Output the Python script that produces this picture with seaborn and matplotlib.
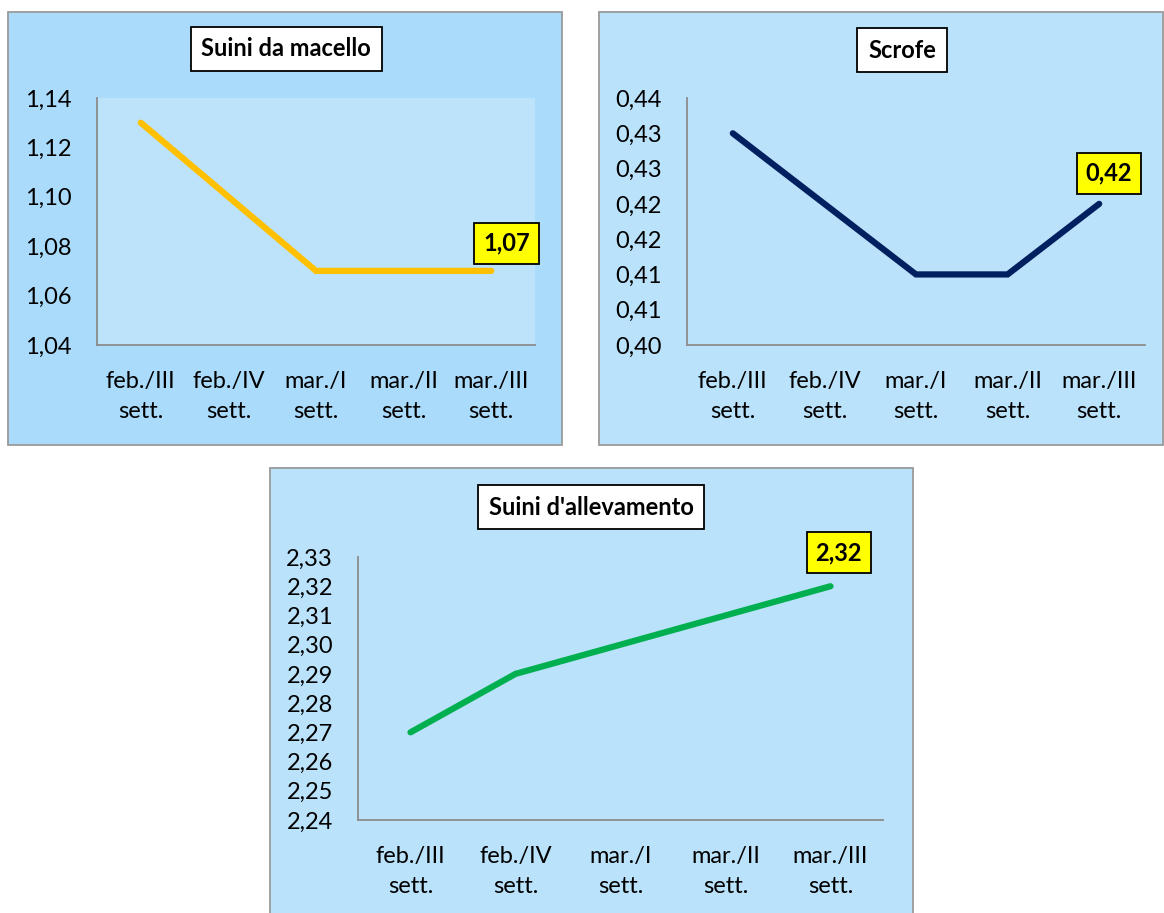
import numpy as np
import pandas as pd
import matplotlib
matplotlib.use("Agg")
import matplotlib.pyplot as plt
from matplotlib.patches import Rectangle
from matplotlib.ticker import FixedLocator, FuncFormatter
import seaborn as sns

sns.set_style("white")
plt.rcParams['font.family'] = ['Lato', 'DejaVu Sans']
plt.rcParams['text.color'] = 'black'
plt.rcParams['xtick.color'] = 'black'
plt.rcParams['ytick.color'] = 'black'
plt.rcParams['axes.labelcolor'] = 'black'

# ---------------- data ----------------
weeks = ["feb./III\nsett.", "feb./IV\nsett.", "mar./I\nsett.", "mar./II\nsett.", "mar./III\nsett."]

macello_title = "Suini da macello"
macello_values = [1.13, 1.10, 1.07, 1.07, 1.07]
macello_ticks = [1.04, 1.06, 1.08, 1.10, 1.12, 1.14]

scrofe_title = "Scrofe"
scrofe_values = [0.43, 0.42, 0.41, 0.41, 0.42]
scrofe_ticks = [0.400, 0.405, 0.410, 0.415, 0.420, 0.425, 0.430, 0.435]
scrofe_ticklabels = ["0,40", "0,41", "0,41", "0,42", "0,42", "0,43", "0,43", "0,44"]

allev_title = "Suini d'allevamento"
allev_values = [2.27, 2.29, 2.30, 2.31, 2.32]
allev_ticks = [2.24, 2.25, 2.26, 2.27, 2.28, 2.29, 2.30, 2.31, 2.32, 2.33]

# ---------------- layout ----------------
W, H = 1164, 913
FS = 17
fig = plt.figure(figsize=(W / 100, H / 100), dpi=100)
fig.patch.set_facecolor("white")


def frect(x0, y0, x1, y1):
    return [x0 / W, 1 - y1 / H, (x1 - x0) / W, (y1 - y0) / H]


def panel(x0, y0, x1, y1, color):
    r = Rectangle((x0 / W, 1 - y1 / H), (x1 - x0) / W, (y1 - y0) / H,
                  transform=fig.transFigure, facecolor=color,
                  edgecolor="#9a9a9a", linewidth=1.3, zorder=-10)
    fig.patches.append(r)


def title_box(cx, cy, text):
    fig.text(cx / W, 1 - cy / H, text, ha="center", va="center",
             fontsize=FS, fontweight="bold", color="black", zorder=10,
             bbox=dict(boxstyle="square,pad=0.45", facecolor="white",
                       edgecolor="black", linewidth=1.3))


def fmt_comma(v, pos=None):
    return f"{v:.2f}".replace(".", ",")


def make_axes(rect, values, color, ticks, ticklabels, ylim, face, offset):
    ax = fig.add_axes(rect)
    ax.set_facecolor(face)
    df = pd.DataFrame({"x": np.arange(len(weeks)), "y": values})
    sns.lineplot(data=df, x="x", y="y", ax=ax, color=color, linewidth=4.5,
                 solid_capstyle="round", solid_joinstyle="miter")
    ax.set_xlim(-0.5, len(weeks) - 0.5)
    ax.set_ylim(*ylim)
    ax.set_xticks(np.arange(len(weeks)))
    ax.set_xticklabels(weeks, fontsize=FS, linespacing=1.5, color="black")
    ax.yaxis.set_major_locator(FixedLocator(ticks))
    if ticklabels is None:
        ax.yaxis.set_major_formatter(FuncFormatter(fmt_comma))
    else:
        ax.set_yticklabels(ticklabels)
    ax.tick_params(axis="y", labelsize=FS, length=0, pad=18, labelcolor="black")
    ax.tick_params(axis="x", length=0, pad=19, labelcolor="black")
    ax.set_xlabel("")
    ax.set_ylabel("")
    for s in ["top", "right"]:
        ax.spines[s].set_visible(False)
    for s in ["left", "bottom"]:
        ax.spines[s].set_color("#8c8c8c")
        ax.spines[s].set_linewidth(1.3)
    last = len(values) - 1
    ax.annotate(fmt_comma(values[last]), xy=(last, values[last]),
                xytext=offset, textcoords="offset points",
                ha="center", va="center", fontsize=FS, fontweight="bold",
                color="black",
                bbox=dict(boxstyle="square,pad=0.38", facecolor="#FFFF00",
                          edgecolor="black", linewidth=1.3),
                annotation_clip=False)
    return ax


# panel 1
panel(8, 12, 562, 445, "#AADBFB")
ax1 = make_axes(frect(97, 98, 535, 345), macello_values, "#FFC000",
                macello_ticks, None, (1.04, 1.14), "#BDE3FB", (11, 20))
title_box(286, 49, macello_title)

# panel 2
panel(599, 12, 1163, 445, "#BBE2FB")
ax2 = make_axes(frect(687, 98, 1145, 345), scrofe_values, "#002060",
                scrofe_ticks, scrofe_ticklabels, (0.400, 0.435), "#BBE2FB", (7, 22))
title_box(902, 50, scrofe_title)

# panel 3
panel(270, 468, 913, 915, "#BBE2FB")
ax3 = make_axes(frect(358, 557, 883, 820), allev_values, "#00B050",
                allev_ticks, None, (2.24, 2.33), "#BBE2FB", (6, 24))
title_box(591, 507, allev_title)

fig.savefig("out.png", dpi=100, facecolor=fig.get_facecolor())
